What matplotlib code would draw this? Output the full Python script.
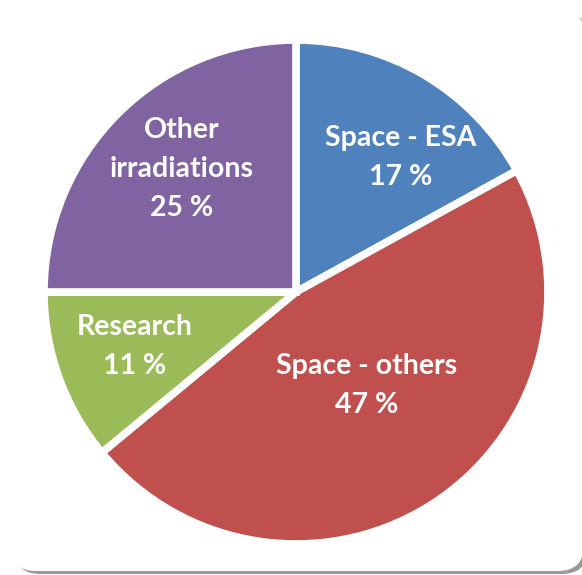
import matplotlib
matplotlib.use("Agg")
import matplotlib.pyplot as plt
from matplotlib.patches import FancyBboxPatch

categories = ["Space - ESA", "Space - others", "Research", "Other\nirradiations"]
values = [17, 47, 11, 25]
colors = ["#4F81BD", "#C0504D", "#9BBB59", "#8064A2"]
label_pos = [(0.415, 0.535), (0.28, -0.37), (-0.64, -0.215), (-0.455, 0.49)]

W, H = 582, 575
fig = plt.figure(figsize=(W / 100, H / 100), dpi=100)
fig.patch.set_facecolor("white")

# frame (rounded) with a soft shadow to the bottom-right
px = lambda v: v / W
py = lambda v: v / H
shadow = FancyBboxPatch((px(14), py(575 - 574)), px(574), py(562), boxstyle="round,pad=0,rounding_size=0.045",
                        transform=fig.transFigure, facecolor="#9a9a9a", edgecolor="none", zorder=0,
                        mutation_aspect=W / H)
frame = FancyBboxPatch((px(10), py(575 - 571)), px(574), py(563), boxstyle="round,pad=0,rounding_size=0.045",
                       transform=fig.transFigure, facecolor="white", edgecolor="none", zorder=1,
                       mutation_aspect=W / H)
fig.patches.extend([shadow, frame])

cx, cy, r = 296, 292, 252
ax = fig.add_axes([(cx - r) / W, (H - cy - r) / H, 2 * r / W, 2 * r / H])
ax.set_zorder(2)
ax.patch.set_alpha(0)
ax.pie(values, colors=colors, startangle=90, counterclock=False, radius=1,
       wedgeprops=dict(edgecolor="white", linewidth=5.5))
ax.set_xlim(-1, 1)
ax.set_ylim(-1, 1)
ax.set_aspect("equal")
ax.axis("off")

for cat, v, (x, y) in zip(categories, values, label_pos):
    ax.text(x, y, f"{cat}\n{v} %", ha="center", va="center", color="white",
            fontsize=20.5, fontweight="bold", family="Lato", linespacing=1.62)

fig.savefig("out.png", dpi=100)
